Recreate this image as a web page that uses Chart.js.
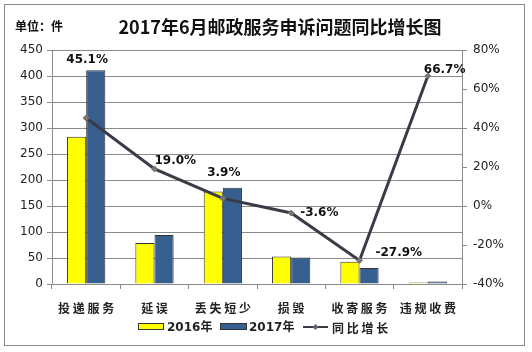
<!DOCTYPE html>
<html>
<head>
<meta charset="utf-8">
<script src="https://cdn.jsdelivr.net/npm/chart.js@4/dist/chart.umd.min.js"></script>
<style>
  html, body { margin: 0; padding: 0; background: #fff; }
  #wrap { width: 532px; height: 352px; }
</style>
</head>
<body>
<div id="wrap"><canvas id="c" width="532" height="352"></canvas></div>
<script>
// ---- data ----
const categories = ['投递服务', '延误', '丢失短少', '损毁', '收寄服务', '违规收费'];
const values2016 = [283, 79, 178, 53, 43, 3];
const values2017 = [411, 94, 185, 51, 31, 5];
const growthPct = [45.1, 19.0, 3.9, -3.6, -27.9, 66.7];
const leftTicks = [0, 50, 100, 150, 200, 250, 300, 350, 400, 450];
const rightTicks = [-40, -20, 0, 20, 40, 60, 80];
const seriesNames = ['2016年', '2017年', '同比增长'];
const titleText = '2017年6月邮政服务申诉问题同比增长图';
const unitText = '单位：件';

// ---- styling ----
const YELLOW = '#ffff00';
const BLUE = '#365f8f';
const LINE = '#3b3b48';
const GRID = '#8a8a8a';
const TXT = '#222';

const spaced = s => s.split('').join(' ');

const frame = {
  id: 'frame',
  beforeDraw(chart) {
    const ctx = chart.ctx;
    ctx.save();
    ctx.fillStyle = '#fff';
    ctx.fillRect(0, 0, chart.width, chart.height);
    ctx.strokeStyle = '#8a8a8a';
    ctx.lineWidth = 1;
    ctx.strokeRect(4.5, 4.5, 520, 341);
    ctx.restore();
  },
  afterDraw(chart) {
    const ctx = chart.ctx;
    ctx.save();
    // title
    ctx.fillStyle = '#111';
    ctx.textBaseline = 'middle';
    ctx.textAlign = 'center';
    ctx.font = 'bold 18px "Noto Sans CJK SC"';
    ctx.fillText(titleText, 280, 27);
    ctx.textAlign = 'left';
    ctx.font = 'bold 12px "Noto Sans CJK SC"';
    ctx.fillText(unitText, 15, 26);

    // legend
    const ly = 328;
    ctx.font = 'bold 12px "DejaVu Sans", "Noto Sans CJK SC"';
    ctx.lineWidth = 1;
    ctx.strokeStyle = '#333';
    ctx.fillStyle = YELLOW;
    ctx.fillRect(138.5, ly - 4.5, 25, 6);
    ctx.strokeRect(138.5, ly - 4.5, 25, 6);
    ctx.fillStyle = BLUE;
    ctx.fillRect(220.5, ly - 4.5, 26, 6);
    ctx.strokeRect(220.5, ly - 4.5, 26, 6);
    ctx.fillStyle = TXT;
    ctx.fillText(seriesNames[0], 167, ly);
    ctx.fillText(seriesNames[1], 249, ly);
    ctx.strokeStyle = LINE;
    ctx.lineWidth = 2;
    ctx.beginPath();
    ctx.moveTo(303, ly - 1);
    ctx.lineTo(328, ly - 1);
    ctx.stroke();
    ctx.fillStyle = '#666';
    ctx.beginPath();
    ctx.moveTo(315.5, ly - 4); ctx.lineTo(318.5, ly - 1); ctx.lineTo(315.5, ly + 2); ctx.lineTo(312.5, ly - 1);
    ctx.closePath(); ctx.fill();
    ctx.fillStyle = TXT;
    ctx.font = 'bold 12px "Noto Sans CJK SC"';
    ctx.fillText(spaced(seriesNames[2]), 332, ly);
    ctx.restore();
  }
};

// label offsets relative to each line point: [dx, dy, align]
const labelPlace = [[1, -58, 'center'], [0, -8, 'left'], [1, -26, 'center'], [9, 0, 'left'], [16, -8, 'left'], [-4, -6, 'left']];
const pctLabels = {
  id: 'pctLabels',
  afterDatasetsDraw(chart) {
    const meta = chart.getDatasetMeta(2);
    const ctx = chart.ctx;
    ctx.save();
    ctx.font = 'bold 12px "DejaVu Sans"';
    ctx.fillStyle = '#111';
    ctx.textBaseline = 'middle';
    meta.data.forEach((pt, i) => {
      const p = labelPlace[i];
      ctx.textAlign = p[2];
      ctx.fillText(growthPct[i].toFixed(1) + '%', pt.x + p[0], pt.y + p[1]);
    });
    ctx.restore();
  }
};

new Chart(document.getElementById('c'), {
  data: {
    labels: categories.map(spaced),
    datasets: [
      { type: 'bar', label: seriesNames[0], data: values2016, backgroundColor: YELLOW, borderColor: '#333', borderWidth: 1, yAxisID: 'y', order: 1 },
      { type: 'bar', label: seriesNames[1], data: values2017, backgroundColor: BLUE, borderColor: '#333', borderWidth: 1, yAxisID: 'y', order: 1 },
      { type: 'line', label: seriesNames[2], data: growthPct, borderColor: LINE, borderWidth: 3, pointStyle: 'rectRot', pointRadius: 3, pointBackgroundColor: '#777', pointBorderColor: '#777', pointBorderWidth: 1, tension: 0, yAxisID: 'y1', order: 0 }
    ]
  },
  options: {
    responsive: false,
    animation: false,
    devicePixelRatio: 1,
    layout: { padding: { top: 50, left: 0, right: 0, bottom: 0 } },
    plugins: { legend: { display: false }, tooltip: { enabled: false }, title: { display: false } },
    datasets: { bar: { categoryPercentage: 0.56, barPercentage: 1.0 } },
    scales: {
      x: {
        offset: true,
        grid: { offset: true, drawOnChartArea: false, drawTicks: true, tickLength: 5, color: GRID },
        border: { display: true, color: GRID },
        ticks: { color: TXT, font: { family: '"Noto Sans CJK SC"', size: 12, weight: 'bold' }, padding: 12, maxRotation: 0, autoSkip: false },
        afterFit(s) { s.height = 68; }
      },
      y: {
        position: 'left',
        min: 0, max: 450,
        afterBuildTicks(s) { s.ticks = leftTicks.map(v => ({ value: v })); },
        grid: { color: GRID, tickLength: 5 },
        border: { display: true, color: GRID },
        ticks: { color: TXT, font: { family: '"DejaVu Sans"', size: 12 }, padding: 4 },
        afterFit(s) { s.width = 52; }
      },
      y1: {
        position: 'right',
        min: -40, max: 80,
        afterBuildTicks(s) { s.ticks = rightTicks.map(v => ({ value: v })); },
        grid: { drawOnChartArea: false, color: GRID, tickLength: 5 },
        border: { display: true, color: GRID },
        ticks: { color: TXT, font: { family: '"DejaVu Sans"', size: 12 }, padding: 6, callback: v => v + '%' },
        afterFit(s) { s.width = 70; }
      }
    }
  },
  plugins: [frame, pctLabels]
});
</script>
</body>
</html>
